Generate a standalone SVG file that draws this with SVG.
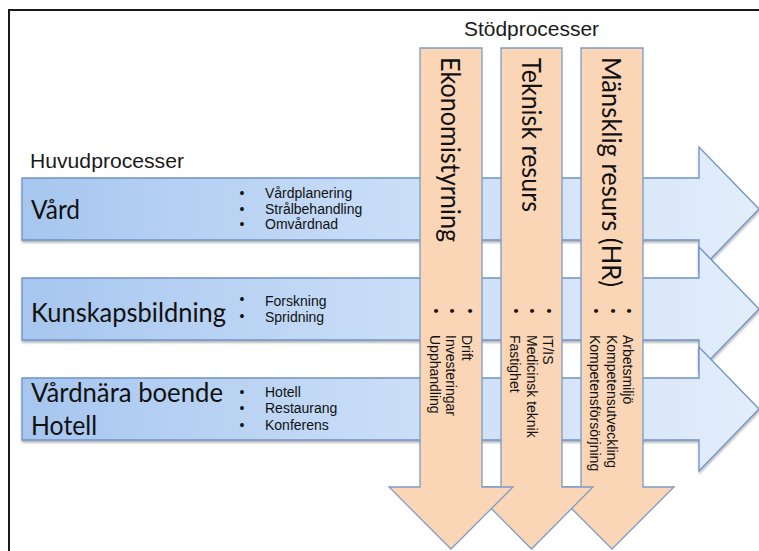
<svg xmlns="http://www.w3.org/2000/svg" width="759" height="551" viewBox="0 0 759 551">
<defs>
<linearGradient id="gBlue" gradientUnits="userSpaceOnUse" x1="22" y1="0" x2="759" y2="0">
<stop offset="0" stop-color="#a6c6ef"/>
<stop offset="0.5" stop-color="#c9ddf7"/>
<stop offset="1" stop-color="#e3edfb"/>
</linearGradient>
<filter id="sh" x="-5%" y="-20%" width="110%" height="140%">
<feDropShadow dx="0.5" dy="2" stdDeviation="1.2" flood-color="#000" flood-opacity="0.3"/>
</filter>
</defs>
<style>
.frame{fill:none;stroke:#1a1a1a;stroke-width:2}
.harrow{fill:url(#gBlue);stroke:#6f93c6;stroke-width:1.3;filter:url(#sh)}
.varrow{fill:#fad5b6;stroke:#7b9bc9;stroke-width:1.3}
.hdr{font-family:"Liberation Sans",Arial,sans-serif;font-size:21px;fill:#1a1a1a}
.big{font-family:Lato,"Open Sans",sans-serif;font-size:26.5px;fill:#111}
.sm{font-family:"Liberation Sans",Arial,sans-serif;font-size:14px;fill:#111}
.bul{font-family:"Liberation Sans",Arial,sans-serif;font-size:14px;fill:#111;text-anchor:middle}
</style>
<rect width="759" height="551" fill="#ffffff"/>
<path class="frame" d="M9,551 V10 H759"/>
<text class="hdr" x="464" y="36" textLength="135" lengthAdjust="spacingAndGlyphs">Stödprocesser</text>
<text class="hdr" x="30" y="168" textLength="154" lengthAdjust="spacingAndGlyphs">Huvudprocesser</text>

<g id="vard">
<polygon class="harrow" points="22,178 699,178 699,147 759,209 699,271 699,240 22,240"/>
<text class="big" x="31" y="219" textLength="49" lengthAdjust="spacingAndGlyphs">Vård</text>
<text class="bul" x="242" y="198">•</text>
<text class="bul" x="242" y="213.5">•</text>
<text class="bul" x="242" y="229">•</text>
<text class="sm" x="265" y="198">Vårdplanering</text>
<text class="sm" x="265" y="213.5">Strålbehandling</text>
<text class="sm" x="265" y="229">Omvårdnad</text>
</g>

<g id="kunskapsbildning">
<polygon class="harrow" points="22,278 699,278 699,247 759,309 699,371 699,340 22,340"/>
<text class="big" x="31" y="322" textLength="195" lengthAdjust="spacingAndGlyphs">Kunskapsbildning</text>
<text class="bul" x="242" y="304">•</text>
<text class="bul" x="242" y="321">•</text>
<text class="sm" x="265" y="305.5">Forskning</text>
<text class="sm" x="265" y="321.5">Spridning</text>
</g>

<g id="vardnara-boende">
<polygon class="harrow" points="22,378 699,378 699,347 759,409 699,471 699,440 22,440"/>
<text class="big" x="31" y="402" textLength="192" lengthAdjust="spacingAndGlyphs">Vårdnära boende</text>
<text class="big" x="31" y="435" textLength="66" lengthAdjust="spacingAndGlyphs">Hotell</text>
<text class="bul" x="242" y="396.5">•</text>
<text class="bul" x="242" y="413">•</text>
<text class="bul" x="242" y="429.5">•</text>
<text class="sm" x="265" y="396.5">Hotell</text>
<text class="sm" x="265" y="413">Restaurang</text>
<text class="sm" x="265" y="429.5">Konferens</text>
</g>

<g id="mansklig-resurs">
<polygon class="varrow" points="581,48 643,48 643,487 674,487 612,549 550,487 581,487"/>
<text class="big" transform="translate(602,57) rotate(90)" textLength="230" lengthAdjust="spacingAndGlyphs">Mänsklig resurs (HR)</text>
<text class="bul" transform="translate(591,311) rotate(90)">•</text>
<text class="bul" transform="translate(607.5,311) rotate(90)">•</text>
<text class="bul" transform="translate(624,311) rotate(90)">•</text>
<text class="sm" transform="translate(623,335) rotate(90)">Arbetsmiljö</text>
<text class="sm" transform="translate(606.5,335) rotate(90)">Kompetensutveckling</text>
<text class="sm" transform="translate(590,335) rotate(90)">Kompetensförsörjning</text>
</g>

<g id="teknisk-resurs">
<polygon class="varrow" points="501,48 562,48 562,487 593,487 531.5,549 470,487 501,487"/>
<text class="big" transform="translate(522,58) rotate(90)" textLength="154" lengthAdjust="spacingAndGlyphs">Teknisk resurs</text>
<text class="bul" transform="translate(510.5,311) rotate(90)">•</text>
<text class="bul" transform="translate(526.5,311) rotate(90)">•</text>
<text class="bul" transform="translate(543.5,311) rotate(90)">•</text>
<text class="sm" transform="translate(543,335) rotate(90)">IT/IS</text>
<text class="sm" transform="translate(526.5,335) rotate(90)">Medicinsk teknik</text>
<text class="sm" transform="translate(510,335) rotate(90)">Fastighet</text>
</g>

<g id="ekonomistyrning">
<polygon class="varrow" points="420,48 482,48 482,487 513,487 451,549 389,487 420,487"/>
<text class="big" transform="translate(440.5,57) rotate(90)" textLength="185" lengthAdjust="spacingAndGlyphs">Ekonomistyrning</text>
<text class="bul" transform="translate(430.5,311) rotate(90)">•</text>
<text class="bul" transform="translate(447,311) rotate(90)">•</text>
<text class="bul" transform="translate(464.5,311) rotate(90)">•</text>
<text class="sm" transform="translate(461.5,335) rotate(90)">Drift</text>
<text class="sm" transform="translate(446,335) rotate(90)">Investeringar</text>
<text class="sm" transform="translate(430,335) rotate(90)">Upphandling</text>
</g>

<g id="connectors"></g>
</svg>
